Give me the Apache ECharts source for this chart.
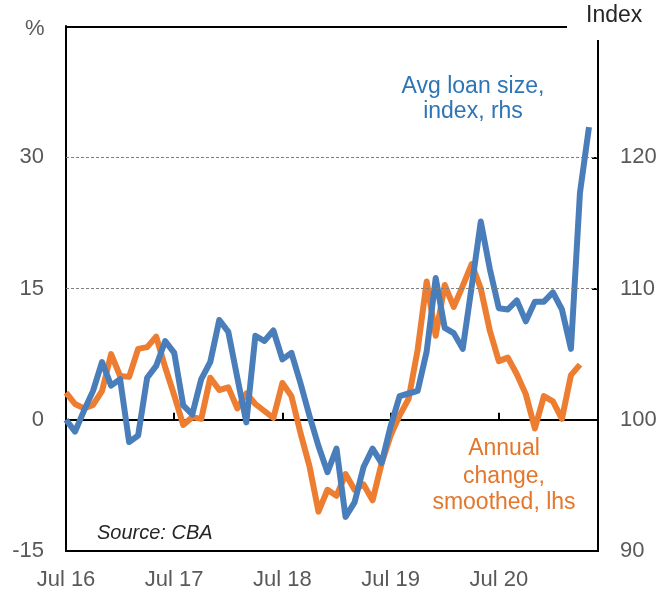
<!DOCTYPE html>
<html>
<head>
<meta charset="utf-8">
<script src="https://cdn.jsdelivr.net/npm/echarts@6/dist/echarts.min.js"></script>
<style>html,body{margin:0;padding:0;background:#fff}#c{width:662px;height:592px}</style>
</head>
<body>
<div id="c"></div>
<script>
// Monthly categories, Jul 2016 - Jun 2021
var months = [
  'Jul 16','Aug 16','Sep 16','Oct 16','Nov 16','Dec 16','Jan 17','Feb 17','Mar 17','Apr 17','May 17','Jun 17',
  'Jul 17','Aug 17','Sep 17','Oct 17','Nov 17','Dec 17','Jan 18','Feb 18','Mar 18','Apr 18','May 18','Jun 18',
  'Jul 18','Aug 18','Sep 18','Oct 18','Nov 18','Dec 18','Jan 19','Feb 19','Mar 19','Apr 19','May 19','Jun 19',
  'Jul 19','Aug 19','Sep 19','Oct 19','Nov 19','Dec 19','Jan 20','Feb 20','Mar 20','Apr 20','May 20','Jun 20',
  'Jul 20','Aug 20','Sep 20','Oct 20','Nov 20','Dec 20','Jan 21','Feb 21','Mar 21','Apr 21','May 21','Jun 21'
];

// Annual change, smoothed (%, lhs)
var annualChange = [
  3.1, 1.8, 1.3, 1.7, 3.3, 7.5, 5.0, 4.9, 8.1, 8.3, 9.5, 6.0,
  2.8, -0.6, 0.3, 0.1, 4.8, 3.4, 3.7, 1.3, 3.0, 1.8, 1.0, 0.2,
  4.2, 2.7, -1.5, -5.3, -10.5, -8.0, -8.7, -6.2, -8.0, -7.4, -9.2, -5.0,
  -1.8, 0.5, 2.4, 8.0, 15.8, 9.6, 15.4, 12.9, 15.3, 17.8, 15.0, 10.2,
  6.7, 7.1, 5.2, 2.9, -1.0, 2.7, 2.1, 0.1, 5.1, 6.3
];

// Avg loan size, index (rhs)
var loanIndex = [
  100.0, 99.1, 100.7, 102.2, 104.4, 102.6, 103.1, 98.3, 98.8, 103.2, 104.1, 106.0,
  105.1, 101.1, 100.4, 103.1, 104.4, 107.6, 106.7, 103.2, 99.8, 106.4, 106.0, 106.8,
  104.6, 105.1, 102.8, 100.3, 98.0, 96.0, 97.8, 92.6, 93.7, 96.4, 97.8, 96.7,
  99.5, 101.8, 102.0, 102.2, 105.2, 110.8, 107.0, 106.6, 105.4, 110.2, 115.1, 111.5,
  108.5, 108.4, 109.1, 107.5, 109.0, 109.0, 109.7, 108.4, 105.4, 117.3, 122.3
];

var leftTicks = [-15, 0, 15, 30];
var rightTicks = [90, 100, 110, 120];
var rightTickMarks = [100, 110, 120];
var gridLines = [15, 30];

var FONT = '"Liberation Sans", Arial, sans-serif';
var GREY = '#595959';
var BLUE = '#4a7ebb';
var ORANGE = '#ed7d31';

var chart = echarts.init(document.getElementById('c'), null, {renderer: 'canvas'});
chart.setOption({
  animation: false,
  backgroundColor: '#fff',
  grid: {left: 66, right: 64, top: 26, bottom: 41, containLabel: false},
  xAxis: [
    {
      type: 'category', data: months, boundaryGap: false, position: 'bottom',
      axisLine: {onZero: false, lineStyle: {color: '#000', width: 2}},
      axisTick: {show: false},
      axisLabel: {interval: 11, color: GREY, fontSize: 22, fontFamily: FONT, margin: 18}
    },
    {
      type: 'category', data: months, boundaryGap: false, position: 'bottom',
      axisLine: {onZero: true, onZeroAxisIndex: 0, lineStyle: {color: '#000', width: 2}},
      axisTick: {show: true, inside: true, interval: 11, length: 7, lineStyle: {color: '#000', width: 2}},
      axisLabel: {show: false}
    }
  ],
  yAxis: [
    {
      type: 'value', min: -15, max: 45, interval: 15, position: 'left',
      axisLine: {show: true, lineStyle: {color: '#000', width: 2}},
      axisTick: {show: false},
      splitLine: {show: false},
      axisLabel: {customValues: leftTicks, color: GREY, fontSize: 22, fontFamily: FONT, margin: 22}
    },
    {
      type: 'value', min: 90, max: 130, interval: 10, position: 'right',
      axisLine: {show: false},
      axisTick: {show: true, inside: true, length: 6, customValues: rightTickMarks, lineStyle: {color: '#000', width: 2}},
      splitLine: {show: false},
      axisLabel: {customValues: rightTicks, color: GREY, fontSize: 22, fontFamily: FONT, margin: 22}
    }
  ],
  series: [
    {
      name: 'Annual change, smoothed, lhs', type: 'line', yAxisIndex: 0, xAxisIndex: 0,
      data: annualChange, showSymbol: false, symbol: 'none',
      lineStyle: {color: ORANGE, width: 6, join: 'round'},
      z: 2,
      markLine: {
        silent: true, symbol: 'none', label: {show: false},
        lineStyle: {color: '#7f7f7f', type: [3, 2], width: 1},
        data: gridLines.map(function (v) { return {yAxis: v}; })
      }
    },
    {
      name: 'Avg loan size, index, rhs', type: 'line', yAxisIndex: 1, xAxisIndex: 0,
      data: loanIndex, showSymbol: false, symbol: 'none',
      lineStyle: {color: BLUE, width: 6, join: 'round'},
      z: 3
    }
  ],
  graphic: [
    {type: 'line', shape: {x1: 66, y1: 27, x2: 567, y2: 27}, style: {stroke: '#000', lineWidth: 2}, z: 10},
    {type: 'line', shape: {x1: 598, y1: 40, x2: 598, y2: 552}, style: {stroke: '#000', lineWidth: 2}, z: 10},
    {type: 'text', left: 25, top: 18, style: {text: '%', font: '22px ' + FONT, fill: GREY}},
    {type: 'text', left: 586, top: 4, style: {text: 'Index', font: '23px ' + FONT, fill: '#262626'}},
    {type: 'text', x: 473, y: 87, style: {text: 'Avg loan size,', font: '23px ' + FONT, fill: '#2e75b6', align: 'center', verticalAlign: 'middle'}},
    {type: 'text', x: 473, y: 112, style: {text: 'index, rhs', font: '23px ' + FONT, fill: '#2e75b6', align: 'center', verticalAlign: 'middle'}},
    {type: 'text', x: 504, y: 449, style: {text: 'Annual', font: '23px ' + FONT, fill: '#e3772b', align: 'center', verticalAlign: 'middle'}},
    {type: 'text', x: 504, y: 477, style: {text: 'change,', font: '23px ' + FONT, fill: '#e3772b', align: 'center', verticalAlign: 'middle'}},
    {type: 'text', x: 504, y: 503, style: {text: 'smoothed, lhs', font: '23px ' + FONT, fill: '#e3772b', align: 'center', verticalAlign: 'middle'}},
    {type: 'text', x: 97, y: 533, style: {text: 'Source: CBA', font: 'italic 20px ' + FONT, fill: '#262626', align: 'left', verticalAlign: 'middle'}}
  ]
});
</script>
</body>
</html>
